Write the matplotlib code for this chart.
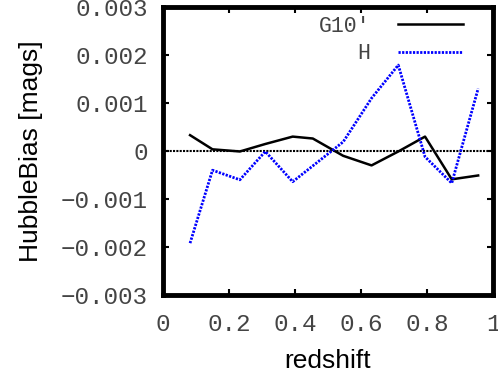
import matplotlib
matplotlib.use("Agg")
import matplotlib.pyplot as plt
from matplotlib.ticker import FuncFormatter

redshift = [0.082, 0.15, 0.233, 0.31, 0.393, 0.454, 0.546, 0.632, 0.713, 0.794, 0.875, 0.955]
g10_bias = [0.00033, 0.000035, -0.00001, 0.000146, 0.0003, 0.00026, -0.0001, -0.0003, -0.00001, 0.0003, -0.00059, -0.00051]
h_bias = [-0.00192, -0.0004, -0.0006, -0.00001, -0.00064, -0.00031, 0.00019, 0.0011, 0.00179, -0.00012, -0.00067, 0.0013]
xticks = [0, 0.2, 0.4, 0.6, 0.8, 1]
yticks = [-0.003, -0.002, -0.001, 0, 0.001, 0.002, 0.003]

fig = plt.figure(figsize=(4.98, 3.76), dpi=100)
ax = fig.add_axes([163/498, 81/376, 330/498, 288/376])

mono = "Liberation Mono"
ax.axhline(0, color="black", lw=1.5, ls=(0, (1, 0.6)), zorder=1)
ax.plot(redshift, g10_bias, color="black", lw=1.8, label="G10\u2032")
ax.plot(redshift, h_bias, color="blue", lw=2.0, ls=(0, (0.8, 0.5)), label="H")

ax.set_xlim(0, 1)
ax.set_ylim(-0.003, 0.003)
ax.set_xticks(xticks)
ax.set_yticks(yticks)

def fmt(v, pos):
    if abs(v) < 1e-12:
        return "0"
    s = ("%g" % v) if abs(v) >= 0.1 else ("%.3f" % v)
    return s.replace("-", "\u2212")

ax.xaxis.set_major_formatter(FuncFormatter(fmt))
ax.yaxis.set_major_formatter(FuncFormatter(fmt))
ax.tick_params(direction="in", length=4, width=1.5, top=True, right=True,
               labelsize=17.5, labelcolor="#444444")
ax.tick_params(axis="y", pad=11)
ax.tick_params(axis="x", pad=13)
for lab in ax.get_xticklabels() + ax.get_yticklabels():
    lab.set_family(mono)
for sp in ax.spines.values():
    sp.set_linewidth(3.5)

ax.set_xlabel("redshift", fontsize=19, family="Liberation Sans", labelpad=9)
ax.set_ylabel("HubbleBias [mags]", fontsize=19, family="Liberation Sans", labelpad=13)

leg = ax.legend(loc="upper right", frameon=False, markerfirst=False,
                prop={"family": mono, "size": 15.5}, handlelength=3.0,
                borderaxespad=0.2, borderpad=0.2, labelspacing=0.3,
                handletextpad=1.3, bbox_to_anchor=(0.935, 1.0))
for t in leg.get_texts():
    t.set_color("#444444")
    t.set_ha("right")

fig.savefig("out.png", dpi=100)
